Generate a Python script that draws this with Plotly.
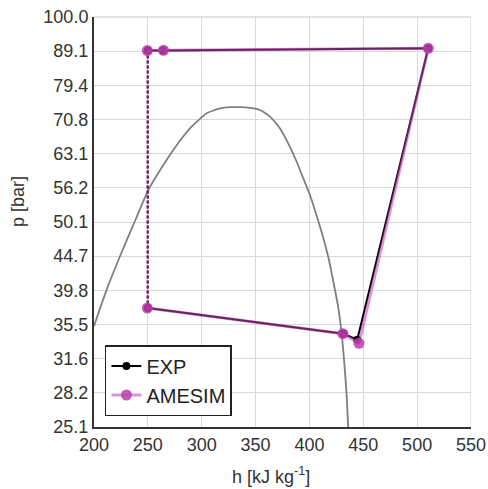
import plotly.graph_objects as go

# Saturation dome (CO2)
h_dome = [200, 212, 225, 238.5, 250.4, 262, 273.6, 289.1, 304.6, 317, 326, 335.5, 345, 354.1, 363.4, 372.7, 381, 388.2, 394, 400.5, 407, 412.9, 418, 422.2, 426.5, 429.9, 432.5, 434.5, 436]
p_dome = [35.3, 40.0, 45.0, 50.5, 55.8, 59.9, 63.9, 68.7, 72.3, 73.5, 73.8, 73.8, 73.6, 73.1, 71.5, 68.7, 65.0, 61.4, 58.2, 54.9, 51.0, 47.5, 44.2, 41.0, 37.8, 34.4, 31.0, 28.0, 25.1]

# EXP cycle
h_exp = [250, 264, 510.3, 444.4, 431.4, 250]
p_exp = [89.3, 89.3, 90.0, 33.7, 34.4, 37.5]
h_exp_dash = [250, 250]
p_exp_dash = [89.3, 37.5]

# AMESIM cycle
h_ame = [249.5, 264.5, 510.3, 446.0, 431.0, 249.5]
p_ame = [89.3, 89.4, 90.0, 33.3, 34.4, 37.5]
h_ame_dash = [249.5, 249.5]
p_ame_dash = [89.3, 37.5]

y_tickvals = [25.1189, 28.1838, 31.6228, 35.4813, 39.8107, 44.6684, 50.1187, 56.2341, 63.0957, 70.7946, 79.4328, 89.1251, 100.0]
y_ticktext = ["25.1", "28.2", "31.6", "35.5", "39.8", "44.7", "50.1", "56.2", "63.1", "70.8", "79.4", "89.1", "100.0"]
x_tickvals = [200, 250, 300, 350, 400, 450, 500, 550]

AME_LINE = "rgba(192,64,176,0.55)"
AME_MARK = "rgba(188,60,172,0.85)"
GRID = "#d9d9d9"
TXT = "#333333"

fig = go.Figure()
fig.add_trace(go.Scatter(x=h_dome, y=p_dome, mode="lines",
                         line=dict(color="#7f7f7f", width=1.8, shape="spline", smoothing=0.5),
                         showlegend=False, hoverinfo="skip"))
fig.add_trace(go.Scatter(x=h_exp_dash, y=p_exp_dash, mode="lines",
                         line=dict(color="black", width=2, dash="3px,2px"), showlegend=False))
fig.add_trace(go.Scatter(x=h_exp, y=p_exp, mode="lines+markers", name="EXP",
                         line=dict(color="black", width=2), marker=dict(color="black", size=8)))
fig.add_trace(go.Scatter(x=h_ame_dash, y=p_ame_dash, mode="lines",
                         line=dict(color=AME_LINE, width=3, dash="3px,2px"), showlegend=False))
fig.add_trace(go.Scatter(x=h_ame, y=p_ame, mode="lines+markers", name="AMESIM",
                         line=dict(color=AME_LINE, width=3), marker=dict(color=AME_MARK, size=11)))

fig.update_layout(
    width=488, height=489,
    margin=dict(l=94, r=17, t=17, b=62),
    paper_bgcolor="white", plot_bgcolor="white",
    font=dict(family="Liberation Sans, Arial, sans-serif", size=18, color=TXT),
    legend=dict(x=0.029, y=0.2, xanchor="left", yanchor="top", bgcolor="white",
                bordercolor="#222222", borderwidth=1.5, font=dict(size=20, color="#222222"),
                itemwidth=30, tracegroupgap=2),
    xaxis=dict(range=[200, 550], tickvals=x_tickvals, showgrid=True, gridcolor=GRID, gridwidth=1.3,
               showline=True, linecolor="#333333", linewidth=2, zeroline=False, ticks="",
               automargin=False, tickfont=dict(size=18, color=TXT)),
    yaxis=dict(type="log", range=[1.4, 2.0], tickvals=y_tickvals, ticktext=y_ticktext, showgrid=True,
               gridcolor=GRID, gridwidth=1.3, showline=True, linecolor="#333333", linewidth=2,
               zeroline=False, ticks="", automargin=False, tickfont=dict(size=18, color=TXT)),
)
fig.add_annotation(text="p [bar]", xref="paper", yref="paper", x=-0.2, y=0.55, textangle=-90,
                   showarrow=False, xanchor="center", yanchor="middle", font=dict(size=18, color=TXT))
fig.add_annotation(text="h [kJ kg<sup>-1</sup>]", xref="paper", yref="paper", x=0.47, y=-0.118,
                   showarrow=False, xanchor="center", yanchor="middle", font=dict(size=18, color=TXT))
fig.add_shape(type="line", xref="x", yref="paper", x0=550, x1=550, y0=0, y1=1,
              line=dict(color=GRID, width=1.3), layer="below")
fig.add_shape(type="line", xref="paper", yref="paper", x0=0, x1=1, y0=1, y1=1,
              line=dict(color=GRID, width=1.3), layer="below")
fig.write_html("out.html", config={"displayModeBar": False},
               post_script="document.body.style.margin='0';document.body.style.overflow='hidden';")
